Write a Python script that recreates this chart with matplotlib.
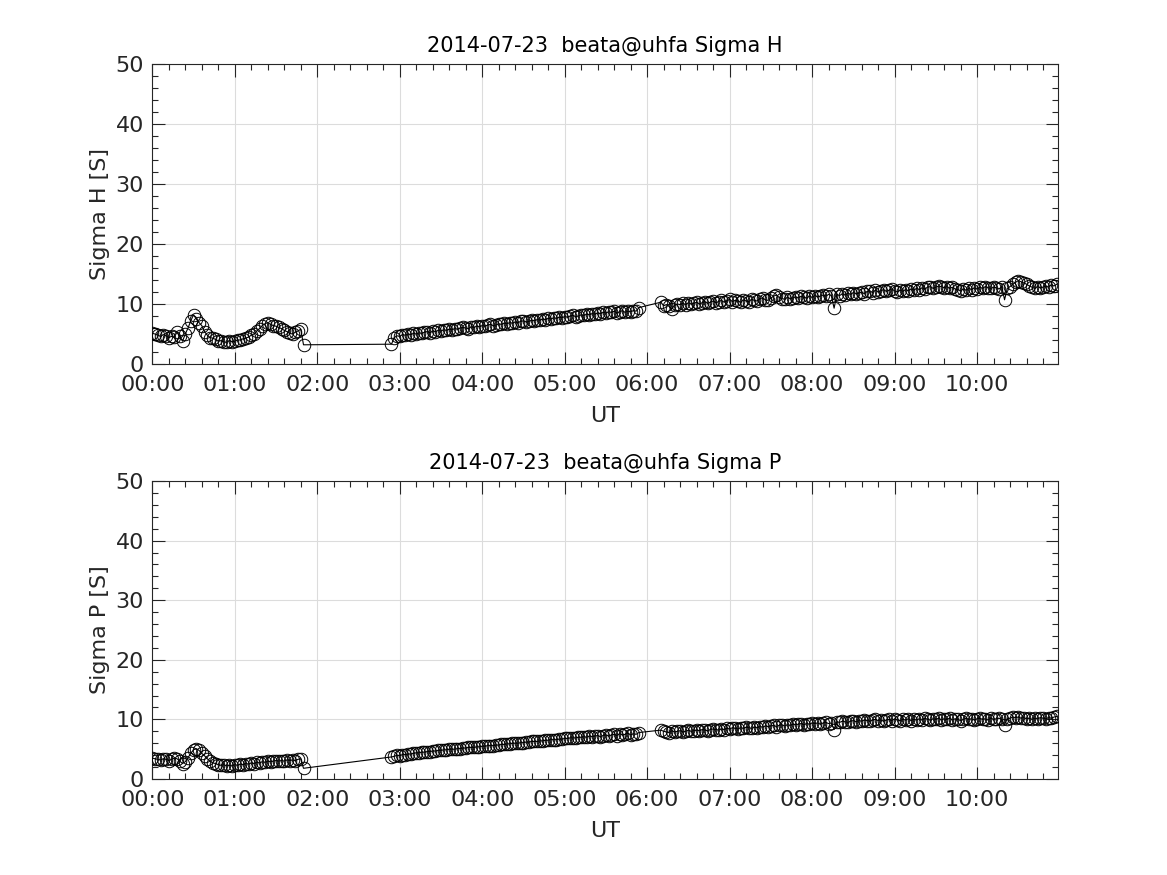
import numpy as np
import matplotlib
matplotlib.use("Agg")
import matplotlib.pyplot as plt
from matplotlib.ticker import MultipleLocator, FuncFormatter

# sample times: three data segments, 2-minute cadence (minutes after 00:00 UT)
seg_start = [0, 174, 370]
seg_stop = [110, 354, 658]
step_min = 2

# Sigma H [S] per segment
sigma_h_1 = [5.1, 5.0, 4.8, 4.6, 4.9, 4.7, 4.4, 4.6, 4.5, 5.3,
             4.6, 3.8, 5.0, 6.0, 7.2, 8.2, 7.5, 6.9, 6.4, 5.4,
             4.8, 4.4, 4.3, 4.1, 3.8, 3.9, 3.7, 3.6, 3.9, 3.7,
             3.8, 4.0, 4.0, 4.2, 4.3, 4.5, 4.8, 5.0, 5.5, 5.9,
             6.4, 6.7, 6.9, 6.6, 6.4, 6.3, 6.1, 5.9, 5.6, 5.4,
             5.1, 5.0, 5.3, 5.5, 5.8, 3.2]
sigma_h_2 = [3.3, 4.4, 4.7, 4.6, 4.9, 4.8, 5.0, 4.9, 5.1, 5.0,
             5.2, 5.1, 5.3, 5.4, 5.2, 5.5, 5.4, 5.6, 5.5, 5.7,
             5.6, 5.8, 5.7, 5.9, 5.8, 6.0, 6.1, 6.0, 5.9, 6.2,
             6.1, 6.3, 6.2, 6.4, 6.3, 6.5, 6.6, 6.4, 6.5, 6.7,
             6.6, 6.8, 6.7, 6.9, 6.8, 7.0, 6.9, 7.1, 7.2, 7.0,
             7.1, 7.3, 7.2, 7.4, 7.3, 7.5, 7.4, 7.6, 7.5, 7.7,
             7.6, 7.8, 7.7, 7.9, 7.8, 8.0, 8.1, 7.9, 8.0, 8.2,
             8.1, 8.3, 8.2, 8.4, 8.3, 8.5, 8.4, 8.6, 8.5, 8.7,
             8.6, 8.8, 8.5, 8.7, 8.9, 8.6, 8.8, 8.7, 8.9, 8.8,
             9.4]
sigma_h_3 = [10.3, 9.7, 9.9, 9.6, 9.2, 9.8, 10.0, 9.9, 10.1, 9.9,
             10.2, 10.0, 10.1, 10.3, 10.0, 10.2, 10.4, 10.1, 10.3, 10.5,
             10.2, 10.4, 10.6, 10.3, 10.5, 10.8, 10.4, 10.6, 10.5, 10.3,
             10.7, 10.5, 10.4, 10.8, 10.6, 10.5, 10.9, 11.0, 10.7, 10.6,
             11.0, 11.3, 11.5, 11.1, 10.9, 10.8, 11.1, 10.9, 11.0, 11.2,
             11.0, 11.3, 11.1, 11.0, 11.3, 11.1, 11.4, 11.2, 11.3, 11.5,
             11.3, 11.6, 11.4, 9.3, 11.6, 11.4, 11.7, 11.5, 11.8, 11.6,
             11.9, 11.7, 11.8, 12.0, 11.7, 12.1, 12.2, 11.9, 12.3, 12.0,
             12.2, 12.4, 12.1, 12.3, 12.5, 12.2, 12.0, 12.3, 12.1, 12.4,
             12.2, 12.5, 12.3, 12.6, 12.4, 12.7, 12.5, 12.8, 12.9, 12.6,
             12.8, 13.0, 12.9, 12.7, 12.9, 12.6, 12.8, 12.5, 12.4, 12.2,
             12.5, 12.3, 12.6, 12.4, 12.7, 12.5, 12.8, 12.6, 12.9, 12.7,
             12.6, 12.8, 12.7, 12.5, 12.9, 10.7, 12.6, 12.9, 13.3, 13.6,
             13.9, 13.7, 13.5, 13.3, 13.0, 12.8, 12.6, 12.9, 12.7, 12.8,
             13.0, 12.8, 13.2, 13.0, 13.3]

# Sigma P [S] per segment
sigma_p_1 = [3.5, 3.4, 3.3, 3.2, 3.4, 3.3, 3.1, 3.3, 3.5, 3.4,
             3.0, 2.6, 2.9, 3.6, 4.3, 4.9, 5.1, 4.8, 4.3, 3.9,
             3.4, 3.0, 2.7, 2.6, 2.4, 2.3, 2.4, 2.2, 2.3, 2.2,
             2.4, 2.3, 2.5, 2.4, 2.6, 2.5, 2.7, 2.6, 2.8, 2.7,
             2.9, 2.8, 3.0, 2.9, 3.0, 3.1, 3.0, 3.1, 3.0, 3.2,
             3.1, 3.2, 3.1, 3.3, 3.4, 1.8]
sigma_p_2 = [3.7, 3.8, 4.0, 3.9, 4.1, 4.1, 4.2, 4.2, 4.3, 4.4,
             4.4, 4.5, 4.5, 4.6, 4.6, 4.7, 4.7, 4.8, 4.8, 4.9,
             4.9, 5.0, 5.0, 5.0, 5.1, 5.1, 5.2, 5.2, 5.3, 5.3,
             5.3, 5.4, 5.4, 5.5, 5.5, 5.6, 5.6, 5.6, 5.7, 5.7,
             5.8, 5.8, 5.9, 5.9, 6.0, 6.0, 6.0, 6.1, 6.1, 6.2,
             6.2, 6.3, 6.3, 6.3, 6.4, 6.4, 6.5, 6.5, 6.6, 6.6,
             6.6, 6.7, 6.7, 6.8, 6.8, 6.9, 6.9, 6.9, 7.0, 7.0,
             7.1, 7.0, 7.2, 7.1, 7.2, 7.3, 7.1, 7.3, 7.4, 7.2,
             7.4, 7.5, 7.3, 7.6, 7.4, 7.5, 7.7, 7.4, 7.6, 7.5,
             7.8]
sigma_p_3 = [8.2, 8.0, 7.9, 7.8, 8.1, 7.9, 8.0, 8.1, 7.9, 8.0,
             8.2, 8.0, 8.1, 8.2, 8.1, 8.3, 8.2, 8.1, 8.3, 8.4,
             8.3, 8.2, 8.4, 8.3, 8.5, 8.4, 8.6, 8.5, 8.4, 8.6,
             8.5, 8.7, 8.6, 8.5, 8.7, 8.6, 8.8, 8.7, 8.9, 8.8,
             8.9, 9.0, 8.8, 9.0, 9.1, 8.9, 9.1, 9.0, 9.2, 9.1,
             9.2, 9.3, 9.1, 9.3, 9.2, 9.4, 9.3, 9.4, 9.2, 9.4,
             9.5, 9.3, 9.4, 8.3, 9.6, 9.5, 9.7, 9.6, 9.5, 9.7,
             9.8, 9.6, 9.8, 9.7, 9.9, 9.8, 9.7, 9.9, 10.0, 9.8,
             9.9, 9.7, 9.9, 10.0, 9.8, 10.1, 9.9, 9.8, 10.0, 9.9,
             10.1, 9.8, 10.0, 9.9, 10.1, 9.9, 10.2, 10.0, 9.9, 10.1,
             10.0, 10.2, 9.9, 10.1, 10.0, 10.2, 9.9, 10.1, 10.0, 9.8,
             10.0, 10.2, 10.0, 10.1, 9.9, 10.1, 10.2, 10.0, 10.1, 9.9,
             10.2, 10.0, 10.1, 10.2, 10.0, 9.1, 10.1, 10.2, 10.4, 10.3,
             10.4, 10.2, 10.3, 10.1, 10.2, 10.0, 10.2, 10.1, 10.3, 10.2,
             10.1, 10.3, 10.2, 10.4, 10.5]

t_end_h = 10.98
date_str = "2014-07-23"
site_str = "beata@uhfa"

t_hours = np.concatenate([np.arange(a, b + 1, step_min) for a, b in zip(seg_start, seg_stop)]) / 60.0
sigma_h = np.array(sigma_h_1 + sigma_h_2 + sigma_h_3)
sigma_p = np.array(sigma_p_1 + sigma_p_2 + sigma_p_3)

plt.rcParams['font.family'] = ['DejaVu Sans']
TXT = '#262626'

fig = plt.figure(figsize=(11.67, 8.75), dpi=100)
ax1 = fig.add_axes([0.1305, 0.584, 0.7760, 0.3429])
ax2 = fig.add_axes([0.1305, 0.1097, 0.7760, 0.3406])


def hhmm(x, pos):
    total = int(round(x * 60))
    return f"{total // 60:02d}:{total % 60:02d}"


def style_panel(ax, y, name):
    ax.plot(t_hours, y, '-', color='black', linewidth=0.8, zorder=3)
    ax.plot(t_hours, y, 'o', markerfacecolor='none', markeredgecolor='black',
            markersize=9, markeredgewidth=0.7, zorder=4)
    ax.set_xlim(0, t_end_h)
    ax.set_ylim(0, 50)
    ax.xaxis.set_major_locator(MultipleLocator(1))
    ax.xaxis.set_minor_locator(MultipleLocator(0.2))
    ax.xaxis.set_major_formatter(FuncFormatter(hhmm))
    ax.yaxis.set_major_locator(MultipleLocator(10))
    ax.yaxis.set_minor_locator(MultipleLocator(2))
    ax.tick_params(which='both', direction='in', top=True, right=True,
                   colors=TXT, labelsize=16, width=0.8)
    ax.tick_params(which='major', length=9)
    ax.tick_params(which='minor', length=4.5)
    ax.tick_params(axis='x', which='major', pad=8)
    ax.tick_params(axis='y', which='major', pad=6)
    ax.grid(True, which='major', color='#dcdcdc', linewidth=0.8)
    ax.set_axisbelow(True)
    for s in ax.spines.values():
        s.set_color(TXT)
        s.set_linewidth(0.8)
    ax.set_xlabel('UT', fontsize=16, color=TXT, labelpad=8)
    ax.set_ylabel(f'Sigma {name} [S]', fontsize=16, color=TXT, labelpad=4)
    ax.set_title(f'{date_str}  {site_str} Sigma {name}', fontsize=15, color='black', pad=8.5)


style_panel(ax1, sigma_h, 'H')
style_panel(ax2, sigma_p, 'P')

fig.savefig('out.png', dpi=100)
